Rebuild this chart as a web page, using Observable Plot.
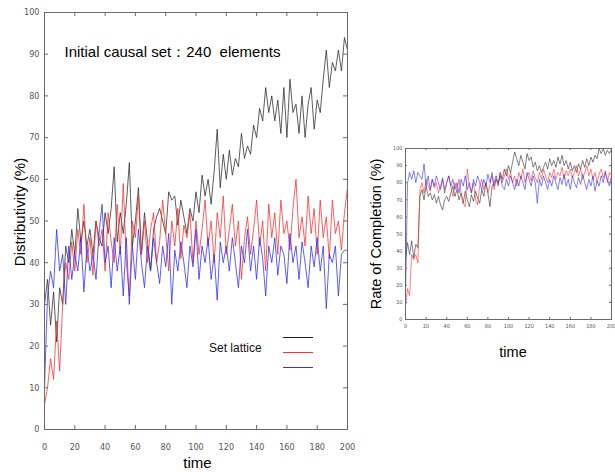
<!DOCTYPE html>
<html><head><meta charset="utf-8">
<script src="https://cdn.jsdelivr.net/npm/d3@7"></script>
<script src="https://cdn.jsdelivr.net/npm/@observablehq/plot@0.6"></script>
<style>
html,body{margin:0;padding:0;background:#fff;}
#wrap{position:relative;width:615px;height:472px;overflow:hidden;background:#fff;font-family:"Liberation Sans",Arial,sans-serif;}
#left{position:absolute;left:0;top:0;line-height:0;}
#right{position:absolute;left:360px;top:130px;line-height:0;}
#left svg,#right svg{display:block;}
.lg{position:absolute;left:283px;width:30px;height:0;border-top:1px solid;}
#lgtext{position:absolute;left:209px;top:341px;font-size:12px;line-height:14px;color:#111;}
#rtime{position:absolute;left:483px;width:60px;text-align:center;top:343px;font-size:14.5px;line-height:18px;color:#000;}
</style></head>
<body><div id="wrap"><div id="left"></div><div id="right"></div>
<div class="lg" style="top:337px;border-color:#222"></div>
<div class="lg" style="top:352px;border-color:#ff3030"></div>
<div class="lg" style="top:367px;border-color:#3030ff"></div>
<div id="lgtext">Set lattice</div>
<div id="rtime">time</div>
</div>
<script>
// time steps (every 2 units) and tick labels
const times = d3.range(0, 201, 2);
const xTicks = [0,20,40,60,80,100,120,140,160,180,200];
const yTicks = [0,10,20,30,40,50,60,70,80,90,100];

// Left panel: Distributivity (%)
const distBlack = [30,36,25,33,21,34,30,44,40,48, 42,53,45,50,44,48,42,50,46,44,
  52,47,53,63,45,52,47,54,64,44, 50,58,42,52,45,38,48,51,53,50,
  47,57,55,56,49,55,51,47,53,50, 57,52,61,56,60,54,62,72,58,66,
  60,67,61,65,63,71,65,68,66,73, 70,77,74,82,76,80,74,79,71,82,
  70,84,76,78,71,80,70,78,82,72, 79,76,84,91,82,88,86,91,86,94, 91];
const distRed = [6,10,17,12,26,14,30,40,36,45, 38,48,42,54,40,46,37,50,44,48,
  38,52,45,40,54,42,59,40,32,50, 46,56,42,50,40,48,52,40,45,55,
  47,38,50,44,53,41,49,46,52,40, 50,42,48,55,44,50,40,52,46,56,
  42,48,54,44,50,36,46,51,42,48, 55,44,50,38,54,46,52,42,55,47,
  50,43,53,60,46,51,44,56,47,53, 42,55,46,51,41,55,47,50,43,52, 58];
const distBlue = [10,32,38,34,48,38,42,30,44,36, 42,38,46,33,44,38,42,36,47,54,
  40,44,34,46,38,44,32,46,30,44, 36,48,40,34,44,38,46,40,35,44,
  39,47,30,43,38,45,40,34,44,39, 48,36,44,40,46,36,42,31,45,40,
  44,38,46,40,34,44,40,48,38,44, 36,46,41,32,44,40,46,37,44,42,
  35,47,40,44,36,45,40,34,44,39, 46,38,44,29,42,40,44,32,42,43, 43];

// Right panel: Rate of Completion (%)
const rateBlack = [35,45,38,46,36,44,42,72,76,70, 78,72,74,70,73,68,72,67,64,70,
  72,69,74,78,72,76,70,74,68,75, 70,66,73,69,75,71,68,76,72,80,
  74,66,78,80,84,79,86,82,88,84, 90,86,92,98,94,90,96,92,88,97,
  93,95,89,92,87,90,86,89,92,88, 94,90,93,89,95,91,96,90,93,88,
  92,87,90,86,91,88,93,89,94,90, 95,92,96,94,100,97,100,96,99,97, 100];
const rateRed = [8,18,14,38,35,38,33,76,80,74, 82,78,75,82,77,80,74,78,83,76,
  80,84,78,72,80,76,82,74,68,66, 88,78,74,80,70,67,78,82,76,80,
  74,79,84,76,82,78,86,80,84,88, 82,86,80,84,78,86,82,88,80,84,
  86,81,87,83,80,86,82,88,84,80, 86,83,88,82,86,84,89,82,87,84,
  88,83,86,90,84,88,82,86,90,84, 88,82,86,80,85,88,83,87,80,86, 84];
const rateBlue = [12,80,86,82,87,80,86,84,82,91, 78,84,76,82,78,84,80,76,82,74,
  80,84,78,82,76,80,74,82,78,84, 76,80,74,82,78,84,80,76,82,78,
  85,80,86,78,82,80,84,78,76,82, 78,84,80,76,82,78,84,80,76,86,
  82,78,84,80,68,82,78,84,80,76, 82,78,84,80,76,83,79,85,78,82,
  76,84,80,77,83,79,85,80,76,82, 78,84,75,81,78,84,80,86,82,78, 84];

const colors = {black:"#2a2a2a", red:"#ff2a2a", blue:"#2a2aff"};
const narrow = '"Liberation Sans Narrow","Arial Narrow","DejaVu Sans Condensed",sans-serif';
const sans = '"Liberation Sans",Arial,sans-serif';

function rows(vals){ return times.map((t,i)=>({t, v: vals[i]})); }

function panel(o){
  const fw = o.width - o.ml - o.mr, fh = o.height - o.mt - o.mb;
  const tk = o.tick;
  const lineOpts = {x:"t", y:"v", strokeWidth:o.sw, strokeOpacity:0.85};
  return Plot.plot({
    width:o.width, height:o.height,
    marginLeft:o.ml, marginRight:o.mr, marginTop:o.mt, marginBottom:o.mb,
    x:{domain:[0,200]}, y:{domain:[0,100]},
    style:{background:"transparent", overflow:"visible"},
    marks:[
      Plot.line(rows(o.black), {...lineOpts, stroke:colors.black}),
      Plot.line(rows(o.red), {...lineOpts, stroke:colors.red}),
      Plot.line(rows(o.blue), {...lineOpts, stroke:colors.blue}),
      Plot.frame({stroke:"#6a6a6a", strokeWidth:1}),
      Plot.tickX(xTicks, {x:d=>d, stroke:"#6a6a6a", insetTop: fh - tk}),
      Plot.tickX(xTicks, {x:d=>d, stroke:"#6a6a6a", insetBottom: fh - tk}),
      Plot.tickY(yTicks, {y:d=>d, stroke:"#6a6a6a", insetRight: fw - tk}),
      Plot.tickY(yTicks, {y:d=>d, stroke:"#6a6a6a", insetLeft: fw - tk}),
      Plot.axisX(xTicks, {tickSize:0, tickPadding:o.xpad, fontSize:o.tfs, fill:"#555", fontFamily:narrow, label:null}),
      Plot.axisY(yTicks, {tickSize:0, tickPadding:o.ypad, fontSize:o.tfs, fill:"#555", fontFamily:narrow, label:null}),
      Plot.text([o.ylabel], {text:d=>d, frameAnchor:"left", textAnchor:"middle", lineAnchor:"middle", dx:o.ylx, dy:o.yly, rotate:-90, fontSize:o.lfs, fontFamily:sans, fill:"#000"}),
      ...(o.xlabel ? [Plot.text([o.xlabel], {text:d=>d, frameAnchor:"bottom", textAnchor:"middle", lineAnchor:"middle", dx:o.xlx, dy:o.xly, fontSize:o.lfs, fontFamily:sans, fill:"#000"})] : []),
      ...(o.title ? [Plot.text([o.title], {text:d=>d, frameAnchor:"top-left", textAnchor:"start", lineAnchor:"middle", dx:20, dy:40, fontSize:15, fontFamily:sans, fill:"#000"})] : [])
    ]
  });
}

document.getElementById("left").append(panel({
  width:360, height:472, ml:44, mr:13, mt:12, mb:43, tick:4, sw:0.9,
  black:distBlack, red:distRed, blue:distBlue,
  xpad:14, ypad:5, tfs:9, lfs:15,
  ylabel:"Distributivity (%)", ylx:-24, yly:-9,
  xlabel:"time", xlx:1.5, xly:34,
  title:"Initial causal set：240\u00a0 elements"
}));

document.getElementById("right").append(panel({
  width:255, height:240, ml:45, mr:4, mt:18, mb:51, tick:2, sw:0.7,
  black:rateBlack, red:rateRed, blue:rateBlue,
  xpad:5, ypad:3, tfs:5.5, lfs:14.5,
  ylabel:"Rate of Completion (%)", ylx:-29, yly:0,
  xlabel:null, xlx:0, xly:0,
  title:null
}));
</script>
</body></html>
